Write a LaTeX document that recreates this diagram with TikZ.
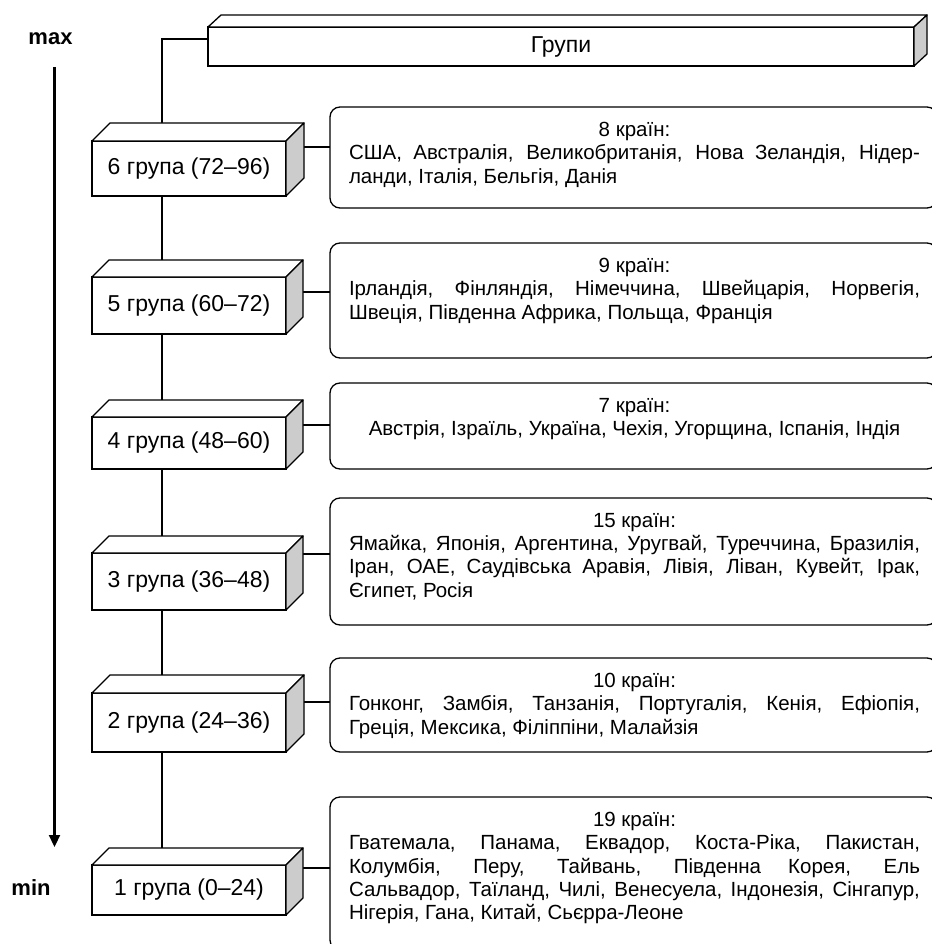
\documentclass[tikz,border=0pt]{standalone}
\usepackage{fontspec}
\setmainfont{Liberation Sans}
\usetikzlibrary{arrows.meta,calc,backgrounds}
\setlength\parindent{0pt}
\definecolor{sidegray}{gray}{0.8}
\newcommand\jline[1]{\makebox[571pt][s]{\spaceskip=0.278em plus 1fil\relax #1}}
\newcommand\ctrline[1]{\makebox[571pt][c]{#1}}
\newcommand\boxthree[3]{%
  \draw[topface] (#1.north west) -- ++(#2,-#3) -- ($(#1.north east)+(#2,-#3)$) -- (#1.north east) -- cycle;
  \draw[sideface] (#1.north east) -- ++(#2,-#3) -- ($(#1.south east)+(#2,-#3)$) -- (#1.south east) -- cycle;
}
\begin{document}
\begin{tikzpicture}[x=1pt,y=-1pt,
  face/.style={draw, line width=1.3pt, fill=white, inner sep=0pt, outer sep=0pt, rectangle,
               font=\fontsize{23}{27}\selectfont},
  grp/.style={face, minimum width=194pt},
  topface/.style={draw, line width=1.3pt, fill=white, line join=round},
  sideface/.style={draw, line width=1.3pt, fill=sidegray, line join=round},
  cbox/.style={draw, line width=1.3pt, rounded corners=10pt, fill=white, minimum width=607pt,
               inner sep=0pt, outer sep=0pt},
  ctext/.style={font=\fontsize{20.5}{23.3}\selectfont, text width=571pt, align=flush left,
                inner sep=0pt, anchor=north},
  conn/.style={line width=1.3pt},
  lim/.style={font=\bfseries\fontsize{22}{26}\selectfont, inner sep=0pt}]
\useasboundingbox (0,0) rectangle (931,944);

% limits and arrow
\node[lim] (mx) at (50.5,39) {max};
\node[lim] (mn) at (31,888) {min};
\coordinate (a1) at (54.5,67);
\coordinate (a2) at (54.5,847);
\draw[line width=2.2pt, -{Triangle[length=12pt,width=11pt]}] (a1) -- (a2);

% right content boxes
\node[cbox, minimum height=101pt] (b8)  at (633.5,157.5) {};
\node[cbox, minimum height=115pt] (b9)  at (633.5,300.5) {};
\node[cbox, minimum height=86pt]  (b7)  at (633.5,426) {};
\node[cbox, minimum height=127pt] (b15) at (633.5,561.5) {};
\node[cbox, minimum height=94pt]  (b10) at (633.5,705) {};
\node[cbox, minimum height=153pt] (b19) at (633.5,873.5) {};

% title box
\node[face, minimum width=706pt, minimum height=39pt] (grp) at (561,46.5) {Групи};
\boxthree{grp}{13}{12}

% group boxes
\node[grp, minimum height=55pt] (g6) at (189,168.5) {6 група (72–96)};
\boxthree{g6}{18}{18}
\node[grp, minimum height=57pt] (g5) at (189,305.5) {5 група (60–72)};
\boxthree{g5}{17}{17}
\node[grp, minimum height=52pt] (g4) at (189,443) {4 група (48–60)};
\boxthree{g4}{17}{17}
\node[grp, minimum height=57pt] (g3) at (189,581.5) {3 група (36–48)};
\boxthree{g3}{17}{17}
\node[grp, minimum height=59pt] (g2) at (189,722.5) {2 група (24–36)};
\boxthree{g2}{18}{18}
\node[grp, minimum height=50pt] (g1) at (189,890) {1 група (0–24)};
\boxthree{g1}{17}{17}

% texts
\node[ctext] (t8) at (634.5,122) {\ctrline{8 країн:}\\
\jline{США, Австралія, Великобританія, Нова Зеландія, Нідер-}\\
ланди, Італія, Бельгія, Данія};
\node[ctext] (t9) at (634.5,258) {\ctrline{9 країн:}\\
\jline{Ірландія, Фінляндія, Німеччина, Швейцарія, Норвегія,}\\
Швеція, Південна Африка, Польща, Франція};
\node[ctext] (t7) at (634.5,398) {\ctrline{7 країн:}\\
\ctrline{Австрія, Ізраїль, Україна, Чехія, Угорщина, Іспанія, Індія}};
\node[ctext] (t15) at (634.5,513) {\ctrline{15 країн:}\\
\jline{Ямайка, Японія, Аргентина, Уругвай, Туреччина, Бразилія,}\\
\jline{Іран, ОАЕ, Саудівська Аравія, Лівія, Ліван, Кувейт, Ірак,}\\
Єгипет, Росія};
\node[ctext] (t10) at (634.5,673) {\ctrline{10 країн:}\\
\jline{Гонконг, Замбія, Танзанія, Португалія, Кенія, Ефіопія,}\\
Греція, Мексика, Філіппіни, Малайзія};
\node[ctext] (t19) at (634.5,812) {\ctrline{19 країн:}\\
\jline{Гватемала, Панама, Еквадор, Коста-Ріка, Пакистан,}\\
\jline{Колумбія, Перу, Тайвань, Південна Корея, Ель}\\
\jline{Сальвадор, Таїланд, Чилі, Венесуела, Індонезія, Сінгапур,}\\
Нігерія, Гана, Китай, Сьєрра-Леоне};

% connectors (behind boxes)
\begin{scope}[on background layer]
\coordinate (sp) at (162,39);
\draw[conn] ([yshift=7.5pt]grp.west) -- (sp) -- (sp |- g1.north);
\draw[conn] ([yshift=10.5pt]b8.west) -- ([yshift=10.5pt]b8.west -| g6.east);
\draw[conn] ([yshift=8.5pt]b9.west) -- ([yshift=8.5pt]b9.west -| g5.east);
\draw[conn] ([yshift=1pt]b7.west) -- ([yshift=1pt]b7.west -| g4.east);
\draw[conn] ([yshift=7.5pt]b15.west) -- ([yshift=7.5pt]b15.west -| g3.east);
\draw[conn] ([yshift=3pt]b10.west) -- ([yshift=3pt]b10.west -| g2.east);
\draw[conn] ([yshift=5.5pt]b19.west) -- ([yshift=5.5pt]b19.west -| g1.east);
\end{scope}
\end{tikzpicture}
\end{document}
